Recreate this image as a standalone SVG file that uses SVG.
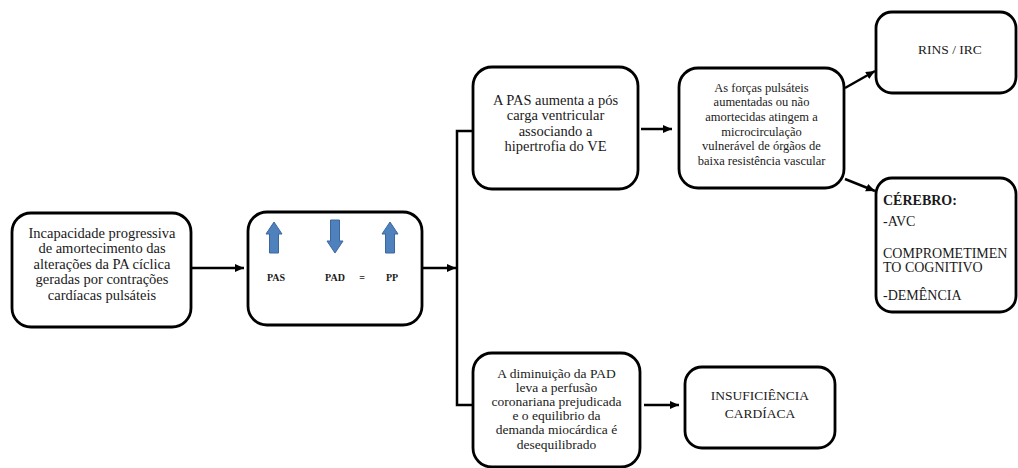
<svg xmlns="http://www.w3.org/2000/svg" width="1018" height="468" viewBox="0 0 1018 468">
<style>
.box{fill:#fff;stroke:#000;stroke-width:2.8}
text{font-family:'Liberation Serif','Times New Roman',serif;fill:#1a1a1a}
.t{text-anchor:middle}
.c{fill:none;stroke:#000;stroke-width:2.5}
.blue{fill:#4f81bd;stroke:#3b66a0;stroke-width:1}
</style>
<defs>
<marker id="ah" markerUnits="userSpaceOnUse" markerWidth="10" markerHeight="10" refX="9" refY="4" orient="auto">
<path d="M0,0 L9,4 L0,8 Z" fill="#000"/>
</marker>
</defs>
<rect width="1018" height="468" fill="#fff"/>
<g id="connectors">
<line class="c" x1="192" y1="268" x2="244" y2="268" marker-end="url(#ah)"/>
<line class="c" x1="422" y1="268" x2="456" y2="268" marker-end="url(#ah)"/>
<polyline class="c" points="473,131 457,131 457,405 473,405"/>
<line class="c" x1="641" y1="129" x2="672" y2="129" marker-end="url(#ah)"/>
<line class="c" x1="845" y1="88" x2="875" y2="71" marker-end="url(#ah)"/>
<line class="c" x1="845" y1="179" x2="875" y2="191" marker-end="url(#ah)"/>
<line class="c" x1="644" y1="405" x2="679" y2="405" marker-end="url(#ah)"/>
</g>
<g id="n-incapacidade">
<rect class="box" x="12" y="213" width="179" height="114" rx="19"/>
<text class="t" font-family="Liberation Serif, serif" font-size="14.5"><tspan x="102" y="237.5">Incapacidade progressiva</tspan><tspan x="102" y="253">de amortecimento das</tspan><tspan x="102" y="268.5">alterações da PA cíclica</tspan><tspan x="102" y="284">geradas por contrações</tspan><tspan x="102" y="299.5">cardíacas pulsáteis</tspan></text>
</g>
<g id="n-pressoes">
<rect class="box" x="248" y="212" width="174" height="113" rx="19"/>
<polygon class="blue" points="274,222 282,234 278.5,234 278.5,253 269.5,253 269.5,234 266,234"/>
<polygon class="blue" points="335,253 327,241 330.5,241 330.5,220 339.5,220 339.5,241 343,241"/>
<polygon class="blue" points="390,222 398,234 394.5,234 394.5,253 385.5,253 385.5,234 382,234"/>
<text class="t" font-family="Liberation Serif, serif" font-size="10" font-weight="bold" x="276" y="281">PAS</text>
<text class="t" font-family="Liberation Serif, serif" font-size="10" font-weight="bold" x="335" y="281">PAD</text>
<text class="t" font-family="Liberation Serif, serif" font-size="10" font-weight="bold" x="362" y="281">=</text>
<text class="t" font-family="Liberation Serif, serif" font-size="10" font-weight="bold" x="392" y="281">PP</text>
</g>
<g id="n-pas">
<rect class="box" x="473" y="67" width="165" height="122" rx="19"/>
<text class="t" font-family="Liberation Serif, serif" font-size="14.5"><tspan x="555.5" y="104.5">A PAS aumenta a pós</tspan><tspan x="555.5" y="120">carga ventricular</tspan><tspan x="555.5" y="135.5">associando a</tspan><tspan x="555.5" y="151">hipertrofia do VE</tspan></text>
</g>
<g id="n-forcas">
<rect class="box" x="679" y="68" width="165" height="120" rx="19"/>
<text class="t" font-family="Liberation Serif, serif" font-size="12.5"><tspan x="761.5" y="91.5">As forças pulsáteis</tspan><tspan x="761.5" y="106.2">aumentadas ou não</tspan><tspan x="761.5" y="120.9">amortecidas atingem a</tspan><tspan x="761.5" y="135.6">microcirculação</tspan><tspan x="761.5" y="150.3">vulnerável de órgãos de</tspan><tspan x="761.5" y="165">baixa resistência vascular</tspan></text>
</g>
<g id="n-rins">
<rect class="box" x="876" y="12" width="140" height="81" rx="16"/>
<text class="t" font-family="Liberation Serif, serif" font-size="13.5" x="950" y="54">RINS / IRC</text>
</g>
<g id="n-cerebro">
<rect class="box" x="876" y="178" width="140" height="134" rx="16"/>
<text font-family="Liberation Serif, serif" font-size="14" font-weight="bold" x="883" y="205">CÉREBRO:</text>
<text font-family="Liberation Serif, serif" font-size="14" x="883" y="226">-AVC</text>
<text font-family="Liberation Serif, serif" font-size="14"><tspan x="883" y="258">COMPROMETIMEN</tspan><tspan x="883" y="272">TO COGNITIVO</tspan></text>
<text font-family="Liberation Serif, serif" font-size="14" x="883" y="300">-DEMÊNCIA</text>
</g>
<g id="n-pad">
<rect class="box" x="473" y="353" width="167" height="114" rx="19"/>
<text class="t" font-family="Liberation Serif, serif" font-size="13.5"><tspan x="556.5" y="377.5">A diminuição da PAD</tspan><tspan x="556.5" y="391.7">leva a perfusão</tspan><tspan x="556.5" y="405.9">coronariana prejudicada</tspan><tspan x="556.5" y="420.1">e o equilibrio da</tspan><tspan x="556.5" y="434.3">demanda miocárdica é</tspan><tspan x="556.5" y="448.5">desequilibrado</tspan></text>
</g>
<g id="n-insuf">
<rect class="box" x="685" y="367" width="150" height="81" rx="17"/>
<text class="t" font-family="Liberation Serif, serif" font-size="13.5"><tspan x="760" y="400">INSUFICIÊNCIA</tspan><tspan x="760" y="418">CARDÍACA</tspan></text>
</g>
</svg>
